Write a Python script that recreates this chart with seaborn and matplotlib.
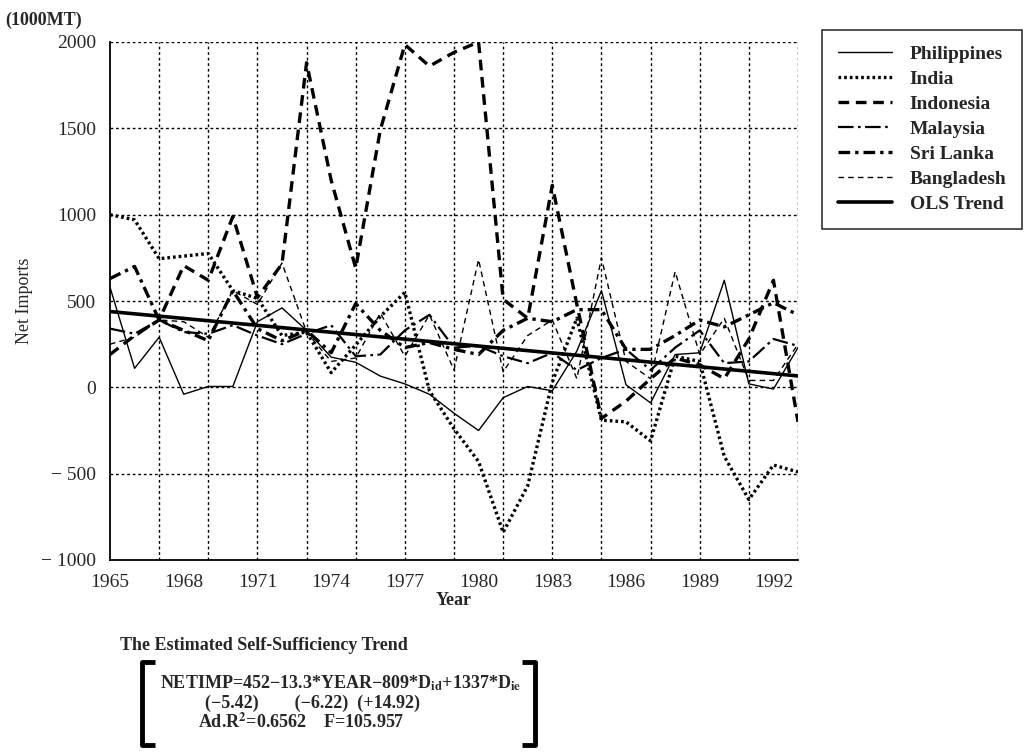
import matplotlib
matplotlib.use("Agg")
import matplotlib.pyplot as plt
from matplotlib.lines import Line2D
import seaborn as sns
import pandas as pd

years = list(range(1965, 1994))
philippines = [580, 110, 290, -40, 5, 5, 380, 460, 330, 175, 145, 65, 20, -40, -150,
               -250, -60, 5, -20, 210, 560, 15, -90, 190, 200, 620, 20, -10, 230]
india = [1000, 970, 745, 760, 775, 560, 515, 300, 320, 85, 245, 410, 550, -20, -240,
         -430, -840, -570, 30, 400, -190, -200, -310, 180, 150, -400, -650, -450, -490]
indonesia = [190, 300, 390, 705, 620, 990, 520, 715, 1880, 1200, 690, 1490, 1985, 1860, 1940,
             2000, 510, 400, 1170, 480, -180, -80, 50, 170, 130, 50, 280, 620, -200]
malaysia = [340, 310, 390, 320, 310, 360, 300, 250, 310, 360, 180, 190, 330, 420, 230,
            240, 180, 140, 200, 100, 170, 220, 100, 230, 330, 140, 150, 280, 240]
srilanka = [630, 700, 390, 330, 270, 560, 340, 270, 330, 200, 485, 330, 230, 260, 220,
            190, 330, 400, 380, 450, 450, 220, 220, 300, 390, 350, 420, 490, 420]
bangladesh = [250, 290, 390, 380, 290, 560, 480, 720, 320, 150, 170, 430, 180, 420, 100,
              740, 90, 300, 390, 50, 750, 150, 50, 670, 190, 400, 40, 40, 250]
trend_years = [1965, 1993]
trend_values = [439, 66]

series_names = ["Philippines", "India", "Indonesia", "Malaysia", "Sri Lanka", "Bangladesh"]
series_values = [philippines, india, indonesia, malaysia, srilanka, bangladesh]

xtick_years = list(range(1965, 1994, 3))
grid_years = list(range(1967, 1994, 2))
ytick_values = [-1000, -500, 0, 500, 1000, 1500, 2000]
ytick_labels = ["\u2212 1000", "\u2212 500", "0", "500", "1000", "1500", "2000"]

styles = {
    "Philippines": dict(lw=1.0, ls="-"),
    "India": dict(lw=2.4, ls=(0, (0.8, 0.9))),
    "Indonesia": dict(lw=2.4, ls=(0, (3.2, 2.0))),
    "Malaysia": dict(lw=1.6, ls=(0, (7, 2, 1.2, 2))),
    "Sri Lanka": dict(lw=2.4, ls=(0, (3.5, 1.5, 1.0, 1.5))),
    "Bangladesh": dict(lw=1.0, ls=(0, (4, 3))),
}

sns.set_style("white")
plt.rcParams["font.family"] = ["Liberation Serif", "DejaVu Serif"]
plt.rcParams["mathtext.fontset"] = "stix"

fig = plt.figure(figsize=(10.28, 7.52), dpi=100)
ax = fig.add_axes([110 / 1028, 1 - 560 / 752, (798 - 110) / 1028, (560 - 42) / 752])

rows = []
for name, vals in zip(series_names, series_values):
    for yr, v in zip(years, vals):
        rows.append({"Year": yr, "Net Imports": v, "Country": name})
df = pd.DataFrame(rows)

handles = []
for name in series_names:
    sub = df[df["Country"] == name]
    st = styles[name]
    sns.lineplot(data=sub, x="Year", y="Net Imports", ax=ax, color="black",
                 linewidth=st["lw"], linestyle=st["ls"], legend=False, zorder=3)
    handles.append(Line2D([], [], color="black", lw=st["lw"], ls=st["ls"], label=name))

tdf = pd.DataFrame({"Year": trend_years, "Net Imports": trend_values})
sns.lineplot(data=tdf, x="Year", y="Net Imports", ax=ax, color="black", linewidth=2.6,
             legend=False, zorder=4)
handles.append(Line2D([], [], color="black", lw=2.6, ls="-", label="OLS Trend"))

# grid
for gy in ytick_values[1:]:
    ax.axhline(gy, color="black", lw=1.0, ls=(0, (2, 2)), zorder=1)
for gx in grid_years:
    ax.axvline(gx, color="black", lw=1.0, ls=(0, (2, 2)), zorder=1)

ax.set_xlim(1965, 1993)
ax.set_ylim(-1000, 2000)
ax.set_xticks(xtick_years)
ax.set_xticklabels([str(y) for y in xtick_years], fontsize=14)
ax.set_xticks(years, minor=True)
ax.set_yticks(ytick_values)
ax.set_yticklabels(ytick_labels, fontsize=14)
ax.tick_params(axis="x", which="major", direction="out", length=7, width=1, pad=3)
ax.tick_params(axis="x", which="minor", direction="out", length=4, width=1)
ax.tick_params(axis="y", direction="out", length=7, width=1, pad=3)
for s in ["top", "right"]:
    ax.spines[s].set_visible(False)
for s in ["left", "bottom"]:
    ax.spines[s].set_color("black")
    ax.spines[s].set_linewidth(1.3)

ax.set_xlabel("Year", fontsize=13, fontweight="bold", labelpad=1)
ax.set_ylabel("Net Imports", fontsize=13, labelpad=6)

fig.text(5 / 1028, 1 - 20 / 752, "(1000MT)", fontsize=13, fontweight="bold", va="center", ha="left")

leg = fig.legend(handles=handles, loc="upper left", bbox_to_anchor=(822 / 1028, 1 - 30 / 752),
                 frameon=True, fancybox=False, edgecolor="black", borderaxespad=0,
                 handlelength=2.8, handletextpad=0.9, labelspacing=0.38, borderpad=0.8,
                 prop={"weight": "bold", "size": 14})
leg.get_frame().set_linewidth(1.2)

# equation block
fig.text(120 / 1028, 1 - 646 / 752, "The Estimated Self-Sufficiency Trend", fontsize=13,
         fontweight="bold", va="center", ha="left")
fig.text(160 / 1028, 1 - 683 / 752,
         "NETIMP=452\u221213.3*YEAR\u2212809*D$_{\\mathbf{id}}$+1337*D$_{\\mathbf{ie}}$",
         fontsize=13, fontweight="bold", va="center", ha="left")
fig.text(205 / 1028, 1 - 703 / 752, "(\u22125.42)        (\u22126.22)  (+14.92)", fontsize=13,
         fontweight="bold", va="center", ha="left")
fig.text(198 / 1028, 1 - 722 / 752, "Ad.R$^{\\mathbf{2}}$=0.6562    F=105.957", fontsize=13,
         fontweight="bold", va="center", ha="left")

def fig_line(xs, ys, lw=3.5):
    fig.add_artist(Line2D([x / 1028 for x in xs], [1 - y / 752 for y in ys],
                          color="black", lw=lw, solid_capstyle="butt"))

fig_line([155, 142, 142, 155], [662, 662, 745, 745])
fig_line([522, 535, 535, 522], [662, 662, 745, 745])

fig.savefig("out.png", dpi=100)
